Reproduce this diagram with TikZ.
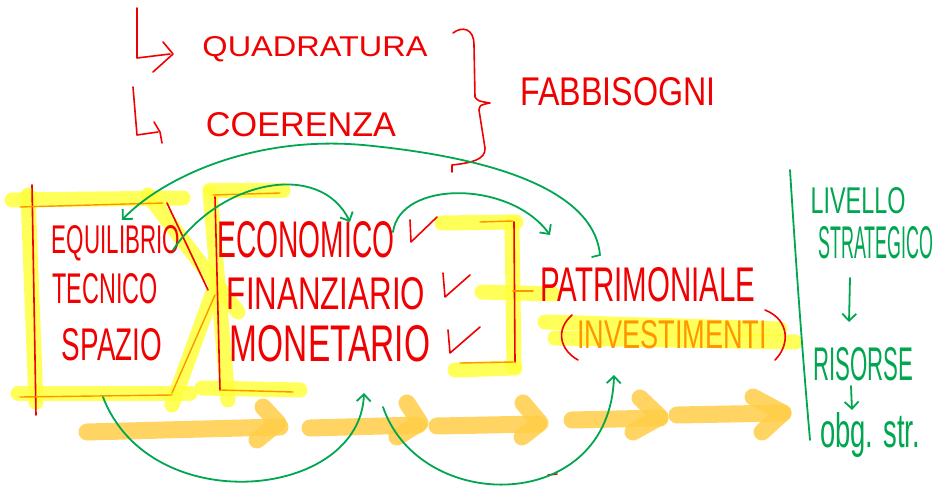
\documentclass[tikz,border=0pt]{standalone}
\usepackage{fontspec}
\setmainfont{Liberation Sans}
\usetikzlibrary{arrows.meta}
\definecolor{hlyel}{RGB}{255,255,60}
\definecolor{hlora}{RGB}{255,205,70}
\definecolor{penred}{RGB}{240,0,0}
\definecolor{pengreen}{RGB}{0,166,80}
\definecolor{penora}{RGB}{255,150,0}
\newcommand\handtxt[3]{\resizebox{#1pt}{#2pt}{#3}}
\begin{document}
\begin{tikzpicture}[x=1pt,y=-1pt,
  hl/.style={hlyel,line width=15pt,line cap=round,line join=round,opacity=0.85},
  hlarrow/.style={hlora,line width=17pt,line cap=round,line join=round,opacity=0.85},
  redpen/.style={penred,line width=1.6pt,line cap=round,line join=round},
  orapen/.style={penora,line width=1.4pt,line cap=round,line join=round},
  greenpen/.style={pengreen,line width=1.8pt,line cap=round,line join=round},
  garrow/.style={greenpen,-{Straight Barb[length=7pt,width=14pt,line width=1.8pt]}},
  redtxt/.style={penred,inner sep=0pt},
  oratxt/.style={penora,inner sep=0pt},
  greentxt/.style={pengreen,inner sep=0pt}]
\useasboundingbox (0,0) rectangle (937,487);

% ---------- yellow highlights ----------
% box 1
\draw[hl] (12,200) -- (183,198);
\draw[hl] (28,195) -- (36,402);
\draw[hl] (18,393) -- (190,393);
\draw[hl] (148,195) -- (238,312);
\draw[hl] (172,405) -- (213,292);
% box 2
\draw[hl] (210,192) -- (228,400);
\draw[hl] (210,190) -- (283,190);
\draw[hl] (202,388) -- (300,390);
% box 3
\draw[hl] (442,223) -- (516,222);
\draw[hl] (512,222) -- (514,367);
\draw[hl] (455,370) -- (515,368);
\draw[hl] (482,292) -- (553,294);
% investimenti
\draw[hl] (545,322) -- (780,329);
\draw[hl] (555,338) -- (795,342);

% ---------- orange arrows ----------
\draw[hlarrow] (87,432) -- (280,427);
\draw[hlarrow] (263,407) -- (278,423) -- (257,440);
\draw[hlarrow] (310,428) -- (418,425);
\draw[hlarrow] (407,403) -- (420,423) -- (397,437);
\draw[hlarrow] (437,426) -- (538,424);
\draw[hlarrow] (523,403) -- (540,423) -- (522,437);
\draw[hlarrow] (572,420) -- (660,418);
\draw[hlarrow] (640,398) -- (660,417) -- (633,432);
\draw[hlarrow] (677,415) -- (783,413);
\draw[hlarrow] (753,397) -- (783,413) -- (762,432);

% ---------- red / orange box lines ----------
\draw[redpen] (32,185) -- (36,415);
\draw[orapen] (20,207) -- (163,203);
\draw[orapen] (20,397) -- (172,395);
\draw[redpen] (167,203) -- (208,290);
\draw[orapen] (215,295) -- (172,393);
\draw[redpen] (215,197) -- (220,390);
\draw[orapen] (213,195) -- (280,193);
\draw[orapen] (220,390) -- (293,392);
\draw[orapen] (480,222) -- (513,221);
\draw[redpen] (514,222) -- (515,362);
\draw[orapen] (460,363) -- (515,362);
\draw[orapen] (513,291) -- (533,291);

% ---------- top red marks ----------
\draw[redpen] (137,8) -- (137,58) -- (170,54);
\draw[redpen] (163,42) -- (173,54) -- (153,72);
\draw[redpen] (133,87) -- (137,135) -- (158,132);
\draw[redpen] (154,122) -- (160,132) -- (162,143);
\draw[redpen] (453,33) .. controls (462,26) and (474,28) .. (474,45)
  -- (475,97) .. controls (478,101) .. (490,103)
  .. controls (480,105) .. (479,110) -- (485,148)
  .. controls (486,160) and (470,163) .. (452,165) -- (452,172);

% ---------- texts ----------
\node[redtxt] (quad) at (315,49) {\handtxt{225}{20}{QUADRATURA}};
\node[redtxt] (coer) at (301,125) {\handtxt{190}{24}{COERENZA}};
\node[redtxt] (fabb) at (618,92) {\handtxt{195}{28}{FABBISOGNI}};
\node[redtxt] (equi) at (116,243) {\handtxt{128}{28}{EQUILIBRIO}};
\node[redtxt] (tecn) at (105,289) {\handtxt{105}{30}{TECNICO}};
\node[redtxt] (spaz) at (112,345) {\handtxt{100}{32}{SPAZIO}};
\node[redtxt] (econ) at (306,240) {\handtxt{177}{36}{ECONOMICO}};
\node[redtxt] (fina) at (326,294) {\handtxt{198}{32}{FINANZIARIO}};
\node[redtxt] (mone) at (330,344) {\handtxt{200}{36}{MONETARIO}};
\node[redtxt] (patr) at (648,285) {\handtxt{215}{34}{PATRIMONIALE}};
\node[oratxt] (inve) at (672,335) {\handtxt{190}{28}{INVESTIMENTI}};
\draw[redpen] (572,315) .. controls (555,330) and (560,350) .. (578,360);
\draw[redpen] (765,310) .. controls (790,320) and (790,345) .. (775,360);

% check marks
\draw[redpen] (410,220) -- (411,242) -- (437,217);
\draw[redpen] (443,273) -- (445,297) -- (470,275);
\draw[redpen] (448,330) -- (450,353) -- (480,327);
\draw[redpen] (548,475) -- (557,474);

% ---------- green ----------
\node[greentxt] (livello) at (858,201) {\handtxt{95}{26}{LIVELLO}};
\node[greentxt] (strat) at (876,243) {\handtxt{115}{32}{STRATEGICO}};
\node[greentxt] (risorse) at (863,364) {\handtxt{100}{33}{RISORSE}};
\node[greentxt] (obg) at (870,435) {\handtxt{100}{35}{obg. str.}};
\coordinate (d1) at (850,278);
\coordinate (d1e) at (849,322);
\coordinate (d2) at (851,386);
\coordinate (d2e) at (852,410);
\draw[garrow] (d1) -- (d1e);
\draw[garrow] (d2) -- (d2e);
\draw[greenpen] (790,170) .. controls (797,280) and (803,360) .. (810,440);

\coordinate (gA1) at (600,255);
\coordinate (gA2) at (122,220);
\coordinate (gB1) at (173,250);
\coordinate (gB2) at (350,222);
\coordinate (gC1) at (393,232);
\coordinate (gC2) at (550,235);
\coordinate (gD1) at (103,397);
\coordinate (gD2) at (364,393);
\coordinate (gE1) at (383,407);
\coordinate (gE2) at (614,375);
\draw[greenpen] (592,257) -- (gA1);
\draw[garrow] (gA1) .. controls (595,200) and (520,160) .. (363,145)
  .. controls (250,135) and (160,180) .. (gA2);
\draw[garrow] (gB1) .. controls (220,180) and (320,160) .. (gB2);
\draw[garrow] (gC1) .. controls (400,180) and (510,180) .. (gC2);
\draw[garrow] (gD1) .. controls (150,520) and (360,500) .. (gD2);
\draw[garrow] (gE1) .. controls (420,515) and (610,515) .. (gE2);
\end{tikzpicture}
\end{document}
